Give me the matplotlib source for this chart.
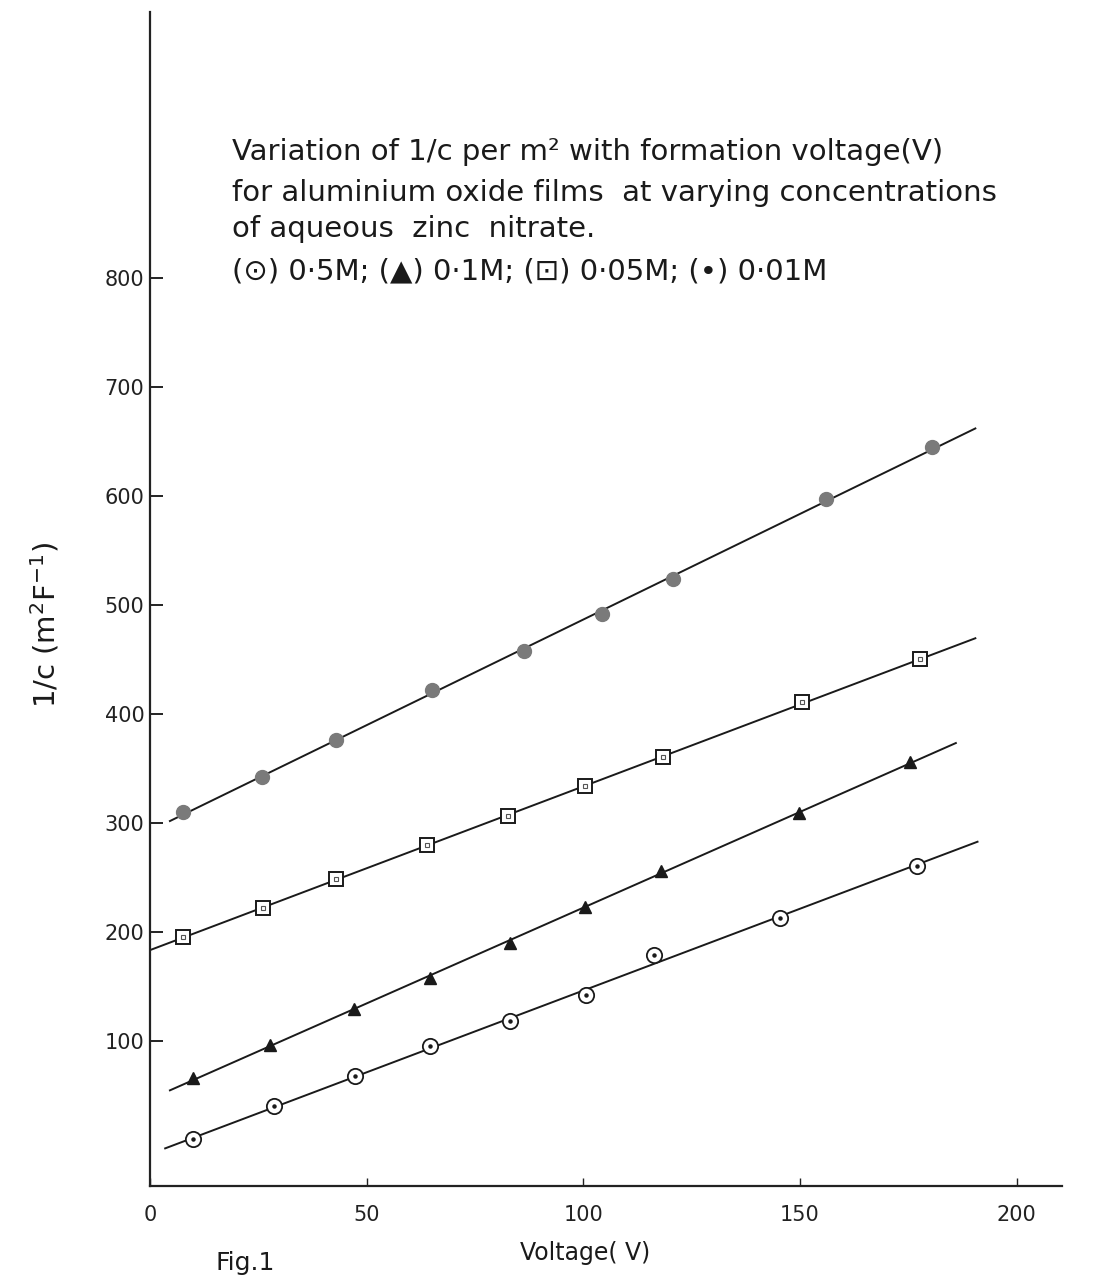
import numpy as np
import matplotlib
matplotlib.use("Agg")
import matplotlib.pyplot as plt

# ---- data ----
x_05M = [9.9, 28.6, 47.3, 64.7, 83.0, 100.7, 116.4, 145.3, 177.0]
y_05M = [10, 40, 68, 95, 118, 142, 179, 213, 261]

x_01M = [9.9, 27.7, 47.0, 64.7, 83.0, 100.5, 118.0, 149.7, 175.5]
y_01M = [66, 96, 129, 158, 190, 223, 256, 309, 356]

x_005M = [7.6, 26.0, 43.0, 64.0, 82.7, 100.5, 118.5, 150.6, 177.8]
y_005M = [195, 222, 249, 280, 306, 334, 361, 411, 450]

x_001M = [7.6, 25.9, 43.0, 65.0, 86.4, 104.4, 120.8, 156.0, 180.6]
y_001M = [310, 342, 376, 422, 458, 492, 524, 597, 645]

# x-extent of the hand-drawn best-fit lines
line_range_05M = [3.5, 191.0]
line_range_01M = [4.6, 186.0]
line_range_005M = [0.0, 190.5]
line_range_001M = [4.6, 190.5]

x_ticks = [0, 50, 100, 150, 200]
y_ticks = [100, 200, 300, 400, 500, 600, 700, 800]

title_lines = [
    "Variation of 1/c per m\u00b2 with formation voltage(V)",
    "for aluminium oxide films  at varying concentrations",
    "of aqueous  zinc  nitrate.",
    "(\u2299) 0\u00b75M; (\u25b2) 0\u00b71M; (\u22a1) 0\u00b705M; (\u2022) 0\u00b701M",
]

plt.rcParams['font.family'] = ['DejaVu Sans']

W, H = 1102, 1279
fig = plt.figure(figsize=(W / 100, H / 100), dpi=100)
ax = fig.add_axes([150 / W, 1 - 1186 / H, (1062 - 150) / W, (1186 - 12) / H])
ax.set_xlim(0, 210.5)
ax.set_ylim(-33, 1044)

for s in ['top', 'right']:
    ax.spines[s].set_visible(False)
for s in ['left', 'bottom']:
    ax.spines[s].set_linewidth(1.6)
    ax.spines[s].set_color('#222222')


def fit_line(xs, ys, rng):
    p = np.polyfit(xs, ys, 1)
    xx = np.array(rng)
    ax.plot(xx, np.polyval(p, xx), color='#1a1a1a', lw=1.4, zorder=2)


fit_line(x_05M, y_05M, line_range_05M)
fit_line(x_01M, y_01M, line_range_01M)
fit_line(x_005M, y_005M, line_range_005M)
fit_line(x_001M, y_001M, line_range_001M)

# 0.5 M : open circle with central dot
ax.plot(x_05M, y_05M, 'o', ms=11, mfc='white', mec='#1a1a1a', mew=1.3, zorder=3)
ax.plot(x_05M, y_05M, 'o', ms=2.2, color='#1a1a1a', zorder=4)
# 0.1 M : filled triangle
ax.plot(x_01M, y_01M, '^', ms=9, color='#1a1a1a', zorder=3)
# 0.05 M : open square
ax.plot(x_005M, y_005M, 's', ms=10, mfc='white', mec='#1a1a1a', mew=1.4, zorder=3)
ax.plot(x_005M, y_005M, 's', ms=3.5, mfc='none', mec='#555555', mew=0.8, zorder=4)
# 0.01 M : filled grey circle
ax.plot(x_001M, y_001M, 'o', ms=10, color='#7a7a7a', zorder=3)

ax.set_xticks(x_ticks)
ax.set_yticks(y_ticks)
ax.tick_params(axis='x', direction='in', length=6, width=1.0, pad=14,
               labelsize=15, colors='#222222')
ax.tick_params(axis='y', direction='in', length=9, width=1.4, pad=4,
               labelsize=15, colors='#222222')

for i, t in enumerate(title_lines):
    ax.text(19, [916, 878, 845, 806][i], t, fontsize=21, color='#1a1a1a',
            va='center', ha='left')

fig.text(585 / W, 1 - 1253 / H, "Voltage( V)", fontsize=17, ha='center',
         va='center', color='#1a1a1a')
fig.text(45 / W, 1 - 625 / H, "1/c (m$^2$F$^{-1}$)", fontsize=21, rotation=90,
         ha='center', va='center', color='#1a1a1a')
fig.text(215 / W, 1 - 1275 / H, "Fig.1", fontsize=18, ha='left', va='bottom',
         color='#1a1a1a')

fig.savefig("out.png", dpi=100, facecolor='white')
